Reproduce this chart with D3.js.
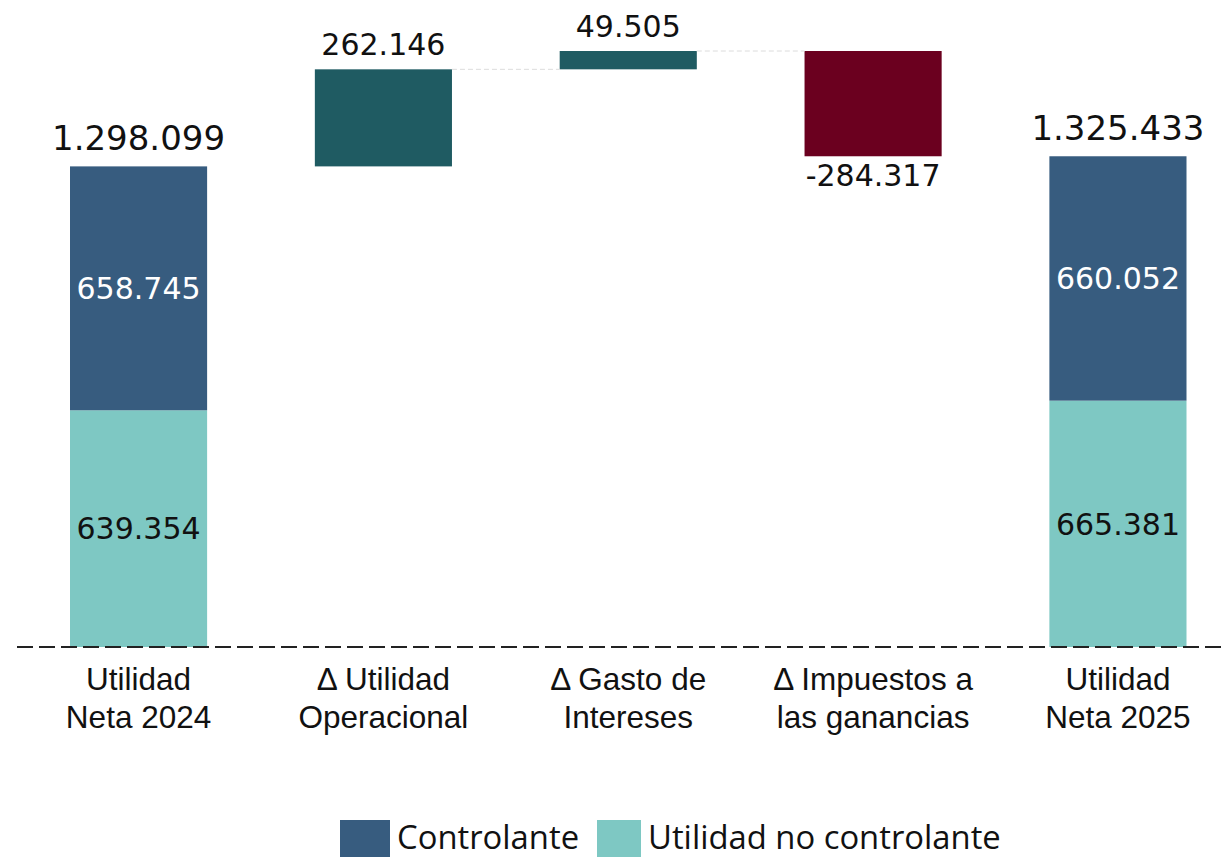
<!DOCTYPE html>
<html><head><meta charset="utf-8">
<script src="https://cdn.jsdelivr.net/npm/d3@7"></script>
<style>body{margin:0;background:#fff}svg{display:block}</style>
</head><body>
<svg id="c" width="1224" height="858"></svg>
<script>
const categories = ["Utilidad Neta 2024", "Δ Utilidad Operacional", "Δ Gasto de Intereses", "Δ Impuestos a las ganancias", "Utilidad Neta 2025"];
const categoryLines = [["Utilidad", "Neta 2024"], ["Δ Utilidad", "Operacional"], ["Δ Gasto de", "Intereses"], ["Δ Impuestos a", "las ganancias"], ["Utilidad", "Neta 2025"]];
const noControlante = [639354, 665381];
const controlante = [658745, 660052];
const deltaValues = [262146, 49505, -284317];
const legendLabels = ["Controlante", "Utilidad no controlante"];

const C_CTRL = "#375c7f", C_NOCTRL = "#7ec8c3", C_UP = "#1f5b62", C_DOWN = "#6b001f";
const svg = d3.select("#c");
const loc = d3.formatLocale({decimal: ",", thousands: ".", grouping: [3], currency: ["", ""], minus: "-"});
const fmt = loc.format(",d");

const x = d3.scaleBand().domain(categories).range([70, 1186.5]).paddingInner(0.44).paddingOuter(0);
const total0 = noControlante[0] + controlante[0];
const maxVal = total0 + deltaValues[0] + deltaValues[1];
const y = d3.scaleLinear().domain([0, maxVal]).range([647, 51]);
const bw = x.bandwidth();

// stacked totals
const totalsIdx = [0, 4];
totalsIdx.forEach((ci, k) => {
  const cat = categories[ci];
  const a = noControlante[k], b = controlante[k];
  svg.append("rect").attr("x", x(cat)).attr("width", bw).attr("y", y(a)).attr("height", y(0) - y(a)).attr("fill", C_NOCTRL);
  svg.append("rect").attr("x", x(cat)).attr("width", bw).attr("y", y(a + b)).attr("height", y(a) - y(a + b)).attr("fill", C_CTRL);
  svg.append("text").attr("x", x(cat) + bw / 2).attr("y", (y(0) + y(a)) / 2).attr("dy", "0.36em")
    .attr("text-anchor", "middle").attr("font-family", "DejaVu Sans").attr("font-size", 30).attr("fill", "#111").text(fmt(a));
  svg.append("text").attr("x", x(cat) + bw / 2).attr("y", (y(a) + y(a + b)) / 2).attr("dy", "0.36em")
    .attr("text-anchor", "middle").attr("font-family", "DejaVu Sans").attr("font-size", 30).attr("fill", "#fff").text(fmt(b));
  svg.append("text").attr("x", x(cat) + bw / 2).attr("y", y(a + b) - 16)
    .attr("text-anchor", "middle").attr("font-family", "DejaVu Sans").attr("font-size", 34).attr("fill", "#111").text(fmt(a + b));
});

// deltas
let run = total0;
const conns = [];
deltaValues.forEach((v, i) => {
  const cat = categories[i + 1];
  const start = run, end = run + v;
  const top = Math.max(start, end), bot = Math.min(start, end);
  svg.append("rect").attr("x", x(cat)).attr("width", bw).attr("y", y(top)).attr("height", y(bot) - y(top))
    .attr("fill", v >= 0 ? C_UP : C_DOWN);
  if (v >= 0) {
    svg.append("text").attr("x", x(cat) + bw / 2).attr("y", y(top) - 14)
      .attr("text-anchor", "middle").attr("font-family", "DejaVu Sans").attr("font-size", 30).attr("fill", "#111").text(fmt(v));
  } else {
    svg.append("text").attr("x", x(cat) + bw / 2).attr("y", y(bot) + 30)
      .attr("text-anchor", "middle").attr("font-family", "DejaVu Sans").attr("font-size", 30).attr("fill", "#111").text(fmt(v));
  }
  conns.push({i: i + 1, val: end});
  run = end;
});
// connectors (visible ones)
conns.slice(0, 2).forEach(c => {
  svg.append("line").attr("x1", x(categories[c.i]) + bw).attr("x2", x(categories[c.i + 1]))
    .attr("y1", y(c.val)).attr("y2", y(c.val))
    .attr("stroke", "#dcdcdc").attr("stroke-width", 1).attr("stroke-dasharray", "5,3");
});

// baseline
svg.append("line").attr("x1", 17).attr("x2", 1224).attr("y1", y(0)).attr("y2", y(0))
  .attr("stroke", "#222").attr("stroke-width", 2).attr("stroke-dasharray", "16,6");

// category labels
categories.forEach((cat, i) => {
  const t = svg.append("text").attr("text-anchor", "middle").attr("font-family", "Liberation Sans, Arial")
    .attr("font-size", 31.5).attr("fill", "#111");
  categoryLines[i].forEach((ln, j) => {
    t.append("tspan").attr("x", x(cat) + bw / 2).attr("y", 690 + j * 38).text(ln);
  });
});

// legend
const leg = [{label: legendLabels[0], c: C_CTRL, x: 340, w: 50, tx: 397}, {label: legendLabels[1], c: C_NOCTRL, x: 597, w: 44, tx: 648}];
leg.forEach(l => {
  svg.append("rect").attr("x", l.x).attr("y", 820).attr("width", l.w).attr("height", 37).attr("fill", l.c);
  svg.append("text").attr("x", l.tx).attr("y", 849).attr("font-family", "Open Sans").attr("font-size", 32.8).attr("fill", "#111").text(l.label);
});
</script>
</body></html>
